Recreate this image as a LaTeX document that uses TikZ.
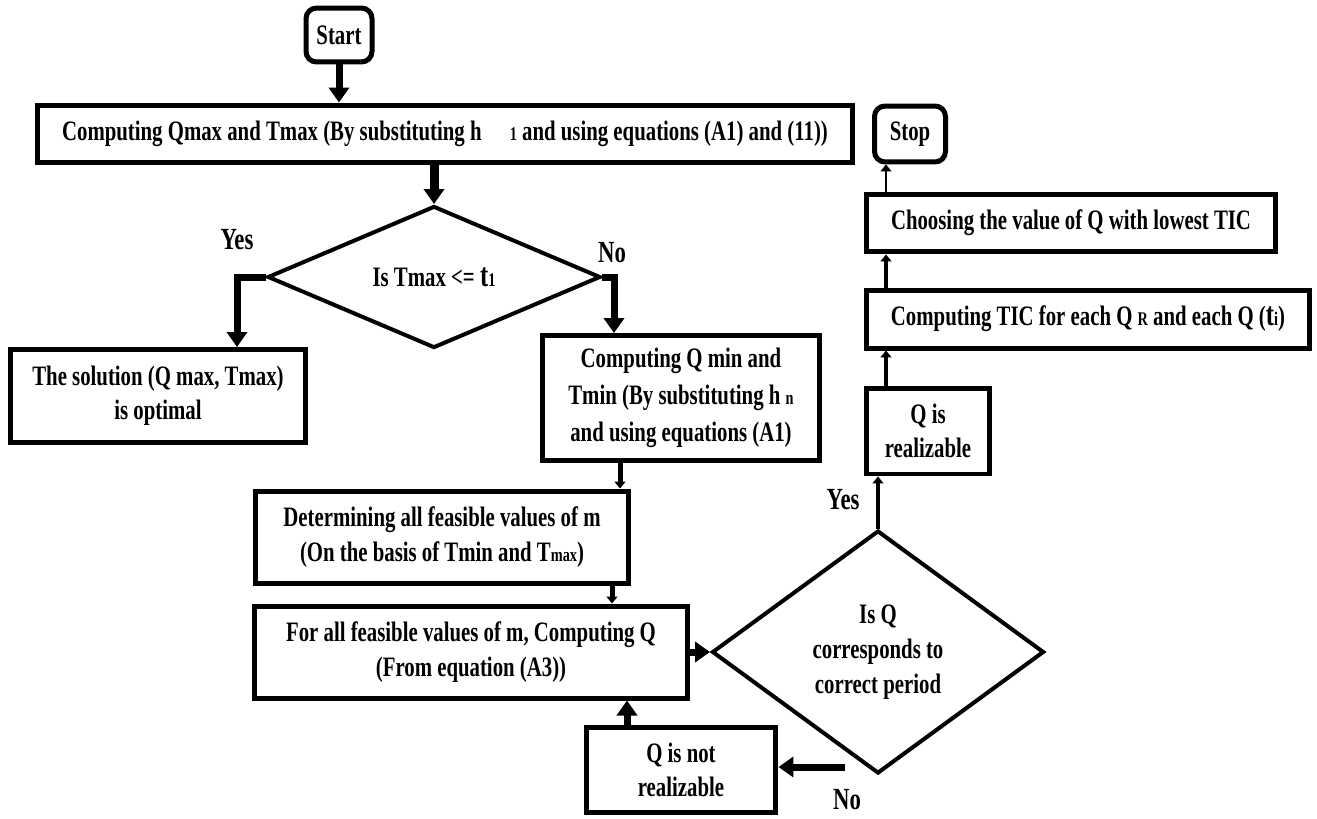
\documentclass[tikz,border=0pt]{standalone}
\usepackage{fontspec}
\setmainfont{Liberation Serif}[FakeStretch=0.74]
\usepackage{tikz}
\usetikzlibrary{shapes.geometric,arrows.meta,calc}

\newcommand{\tinysub}[1]{{\fontsize{11}{11}\selectfont #1}}
\newcommand{\bigt}{{\fontsize{19}{19}\selectfont t}}

\tikzset{
  box/.style={draw, line width=0.1cm, align=center, inner sep=1pt,
    font=\fontsize{16}{19.5}\selectfont\bfseries},
  term/.style={box, rounded corners=6pt},
  cond/.style={box, diamond, line width=0.08cm, inner sep=0pt},
  lbl/.style={font=\fontsize{17.5}{18}\selectfont\bfseries},
  bigarrow/.style={line width=0.14cm, -{Triangle[width=0.4cm,length=0.3cm]}},
  smallarrow/.style={line width=0.07cm, -{Triangle[width=0.22cm,length=0.14cm]}}
}

\begin{document}
\begin{tikzpicture}[x=0.02cm, y=-0.02cm]
\useasboundingbox (0,0) rectangle (1317,818);

\node[term, minimum width=1.32cm, minimum height=1.08cm] (start) at (339,35) {Start};
\node[box, minimum width=16.3cm, minimum height=1.16cm] (qmax) at (445,134)
  {Computing Qmax and Tmax (By substituting h\quad\tinysub{1} and using equations (A1) and (11))};
\node[cond, minimum width=6.66cm, minimum height=2.4cm] (isT) at (434,277)
  {Is Tmax <= \bigt\tinysub{1}};
\node[box, minimum width=5.9cm, minimum height=1.86cm] (sol) at (158,396)
  {The solution (Q max, Tmax)\\is optimal};
\node[box, minimum width=5.56cm, minimum height=2.5cm,
  font=\fontsize{16}{21}\selectfont\bfseries] (qmin) at (681,398)
  {Computing Q min and\\Tmin (By substituting h \tinysub{n}\\and using equations (A1)};
\node[box, minimum width=7.46cm, minimum height=1.84cm] (feas) at (442,537)
  {Determining all feasible values of m\\(On the basis of Tmin and T\tinysub{max})};
\node[box, minimum width=8.66cm, minimum height=1.84cm] (forall) at (471,652)
  {For all feasible values of m, Computing Q\\(From equation (A3))};
\node[cond, minimum width=6.64cm, minimum height=4.86cm,
  font=\fontsize{16}{20}\selectfont\bfseries] (isQ) at (878,652)
  {Is Q\\corresponds to\\correct period};
\node[box, minimum width=3.8cm, minimum height=1.7cm] (notreal) at (681,770)
  {Q is not\\realizable};
\node[box, minimum width=2.46cm, minimum height=1.72cm] (real) at (928,431)
  {Q is\\realizable};
\node[box, minimum width=8.88cm, minimum height=1.16cm] (tic) at (1088,319)
  {Computing TIC for each Q \tinysub{R} and each Q (\bigt\tinysub{i})};
\node[box, minimum width=8.2cm, minimum height=1.16cm] (choose) at (1071,223)
  {Choosing the value of Q with lowest TIC};
\node[term, minimum width=1.42cm, minimum height=1.12cm] (stop) at (910,134) {Stop};

\node[lbl] (yes1) at (237,240) {Yes};
\node[lbl] (no1) at (612,253) {No};
\node[lbl] (yes2) at (843,500) {Yes};
\node[lbl] (no2) at (847,800) {No};

\coordinate (rcol) at (886,0);
\coordinate (lcol) at (620,0);
\coordinate (noend) at (845,767);

\draw[bigarrow] (start) -- (start |- qmax.north);
\draw[bigarrow, line width=0.18cm] (qmax.south -| isT.north) -- (isT.north);
\draw[bigarrow] (isT.west) -| ($(sol.north)+(79,0)$);
\draw[bigarrow] (isT.east) -| ($(qmin.north)+(-67,0)$);
\draw[smallarrow, line width=0.1cm] (qmin.south -| lcol) -- (feas.north -| lcol);
\draw[smallarrow, line width=0.1cm] ($(feas.south)+(170,0)$) -- ($(forall.north)+(141,0)$);
\draw[bigarrow] (forall.east) -- (isQ.west);
\draw[smallarrow] (isQ.north) -- (isQ.north |- real.south);
\draw[smallarrow] (real.north -| rcol) -- (tic.south -| rcol);
\draw[smallarrow] (tic.north -| rcol) -- (choose.south -| rcol);
\draw[smallarrow, line width=0.05cm] (choose.north -| rcol) -- (stop.south -| rcol);
\draw[bigarrow] (noend) -- (noend -| notreal.east);
\draw[bigarrow] ($(notreal.north)+(-54,0)$) -- ($(forall.south)+(156,0)$);
\end{tikzpicture}
\end{document}
